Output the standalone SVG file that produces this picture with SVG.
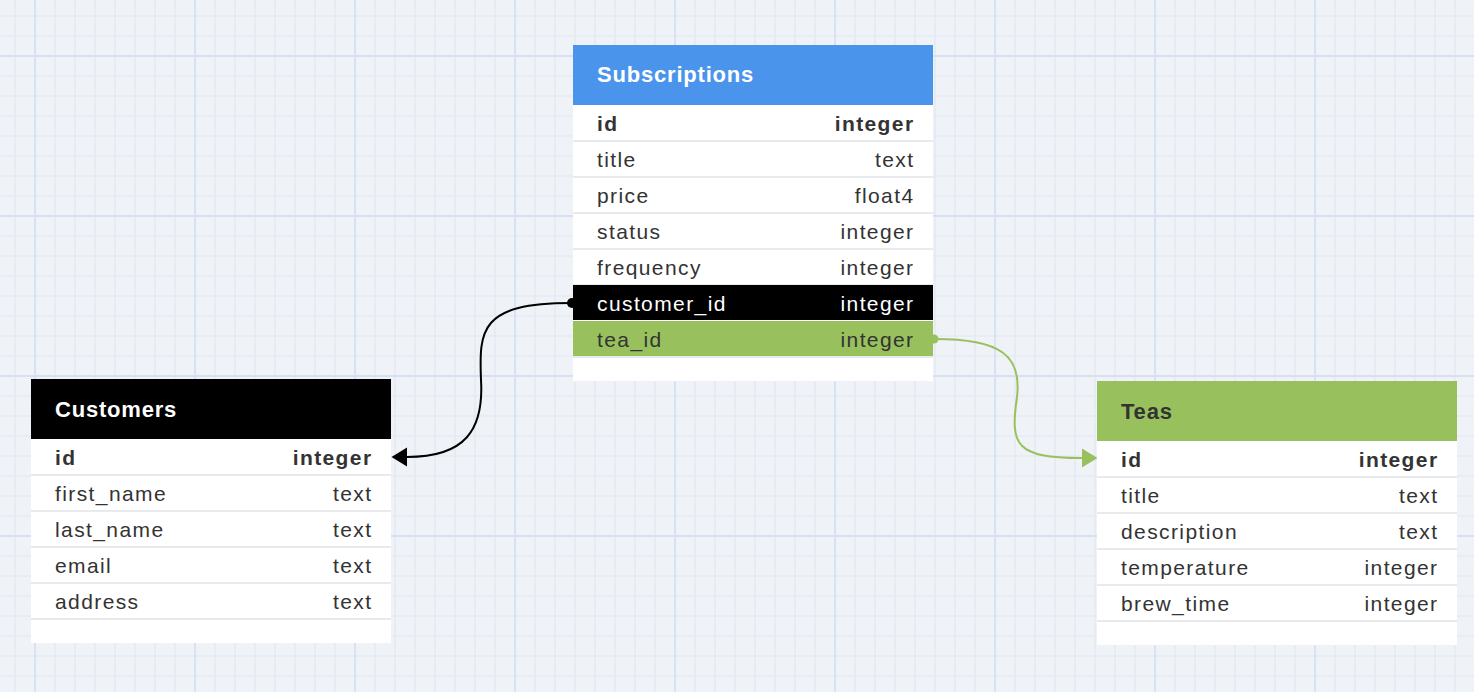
<svg xmlns="http://www.w3.org/2000/svg" width="1474" height="692" viewBox="0 0 1474 692">
  <style>
    .hdr { font-family: "Liberation Sans", Arial, sans-serif; font-size: 22px; font-weight: bold; letter-spacing: 0.8px; }
    .row { font-family: "Liberation Sans", Arial, sans-serif; font-size: 21px; letter-spacing: 1.4px; fill: #333333; }
    .pk { font-weight: bold; }
    .r { text-anchor: end; }
    .body { fill: #ffffff; }
    .sep { fill: #e8eaed; }
    .conn { fill: none; stroke-width: 2; }
  </style>
  <defs>
    <pattern id="grid" x="25" y="46" width="160" height="160" patternUnits="userSpaceOnUse">
      <g stroke="#e1e7f4" stroke-width="1.2">
        <path d="M30,0V160M50,0V160M70,0V160M90,0V160M110,0V160M130,0V160M150,0V160"/>
        <path d="M0,30H160M0,50H160M0,70H160M0,90H160M0,110H160M0,130H160M0,150H160"/>
      </g>
      <g stroke="#d7e0f3" stroke-width="1.8">
        <path d="M10,0V160M0,10H160"/>
      </g>
    </pattern>
    <marker id="arrBlack" viewBox="0 -10 16 20" refX="0" refY="0" markerWidth="16" markerHeight="20" markerUnits="userSpaceOnUse" orient="auto">
      <path d="M0,-9.5L15.5,0L0,9.5Z" fill="#000000"/>
    </marker>
    <marker id="arrGreen" viewBox="0 -10 16 20" refX="0" refY="0" markerWidth="16" markerHeight="20" markerUnits="userSpaceOnUse" orient="auto">
      <path d="M0,-9.5L15.5,0L0,9.5Z" fill="#98c15d"/>
    </marker>
  </defs>

  <rect x="0" y="0" width="1474" height="692" fill="#eff2f6"/>
  <rect x="0" y="0" width="1474" height="692" fill="url(#grid)"/>

  <g id="connectors">
    <path class="conn" stroke="#000000" d="M571,303 C480,303 479,330 481,380 C484,430 465,457 407,457" marker-end="url(#arrBlack)"/>
    <circle cx="572" cy="303" r="5" fill="#000000"/>
    <path class="conn" stroke="#98c15d" d="M935,339 C1000,339 1022,355 1017,397 C1010,445 1015,458 1082,458" marker-end="url(#arrGreen)"/>
    <circle cx="934" cy="339" r="4.5" fill="#98c15d"/>
  </g>

  <g id="subscriptions">
    <rect x="573" y="45" width="360" height="60" fill="#4a94eb"/>
    <text class="hdr" x="597" y="82" fill="#ffffff">Subscriptions</text>
    <rect class="body" x="573" y="105" width="360" height="276"/>
    <rect class="sep" x="573" y="140" width="360" height="2"/>
    <rect class="sep" x="573" y="176" width="360" height="2"/>
    <rect class="sep" x="573" y="212" width="360" height="2"/>
    <rect class="sep" x="573" y="248" width="360" height="2"/>
    <rect class="sep" x="573" y="284" width="360" height="1"/>
    <rect class="sep" x="573" y="356" width="360" height="2"/>
    <rect x="573" y="285" width="360" height="35" fill="#000000"/>
    <rect x="573" y="321" width="360" height="35" fill="#98c15d"/>
    <text class="row pk" x="597" y="130.5">id</text>
    <text class="row pk r" x="914.5" y="130.5">integer</text>
    <text class="row" x="597" y="166.5">title</text>
    <text class="row r" x="914.5" y="166.5">text</text>
    <text class="row" x="597" y="202.5">price</text>
    <text class="row r" x="914.5" y="202.5">float4</text>
    <text class="row" x="597" y="238.5">status</text>
    <text class="row r" x="914.5" y="238.5">integer</text>
    <text class="row" x="597" y="274.5">frequency</text>
    <text class="row r" x="914.5" y="274.5">integer</text>
    <text class="row" x="597" y="310.5" style="fill:#ffffff">customer_id</text>
    <text class="row r" x="914.5" y="310.5" style="fill:#ffffff">integer</text>
    <text class="row" x="597" y="346.5">tea_id</text>
    <text class="row r" x="914.5" y="346.5">integer</text>
  </g>

  <g id="customers">
    <rect x="31" y="379" width="360" height="60" fill="#000000"/>
    <text class="hdr" x="55" y="416.5" fill="#ffffff">Customers</text>
    <rect class="body" x="31" y="439" width="360" height="204"/>
    <rect class="sep" x="31" y="474" width="360" height="2"/>
    <rect class="sep" x="31" y="510" width="360" height="2"/>
    <rect class="sep" x="31" y="546" width="360" height="2"/>
    <rect class="sep" x="31" y="582" width="360" height="2"/>
    <rect class="sep" x="31" y="618" width="360" height="2"/>
    <text class="row pk" x="55" y="464.5">id</text>
    <text class="row pk r" x="372.5" y="464.5">integer</text>
    <text class="row" x="55" y="500.5">first_name</text>
    <text class="row r" x="372.5" y="500.5">text</text>
    <text class="row" x="55" y="536.5">last_name</text>
    <text class="row r" x="372.5" y="536.5">text</text>
    <text class="row" x="55" y="572.5">email</text>
    <text class="row r" x="372.5" y="572.5">text</text>
    <text class="row" x="55" y="608.5">address</text>
    <text class="row r" x="372.5" y="608.5">text</text>
  </g>

  <g id="teas">
    <rect x="1097" y="381" width="360" height="60" fill="#98c15d"/>
    <text class="hdr" x="1121" y="418.5" fill="#333333">Teas</text>
    <rect class="body" x="1097" y="441" width="360" height="204"/>
    <rect class="sep" x="1097" y="476" width="360" height="2"/>
    <rect class="sep" x="1097" y="512" width="360" height="2"/>
    <rect class="sep" x="1097" y="548" width="360" height="2"/>
    <rect class="sep" x="1097" y="584" width="360" height="2"/>
    <rect class="sep" x="1097" y="620" width="360" height="2"/>
    <text class="row pk" x="1121" y="466.5">id</text>
    <text class="row pk r" x="1438.5" y="466.5">integer</text>
    <text class="row" x="1121" y="502.5">title</text>
    <text class="row r" x="1438.5" y="502.5">text</text>
    <text class="row" x="1121" y="538.5">description</text>
    <text class="row r" x="1438.5" y="538.5">text</text>
    <text class="row" x="1121" y="574.5">temperature</text>
    <text class="row r" x="1438.5" y="574.5">integer</text>
    <text class="row" x="1121" y="610.5">brew_time</text>
    <text class="row r" x="1438.5" y="610.5">integer</text>
  </g>
</svg>
